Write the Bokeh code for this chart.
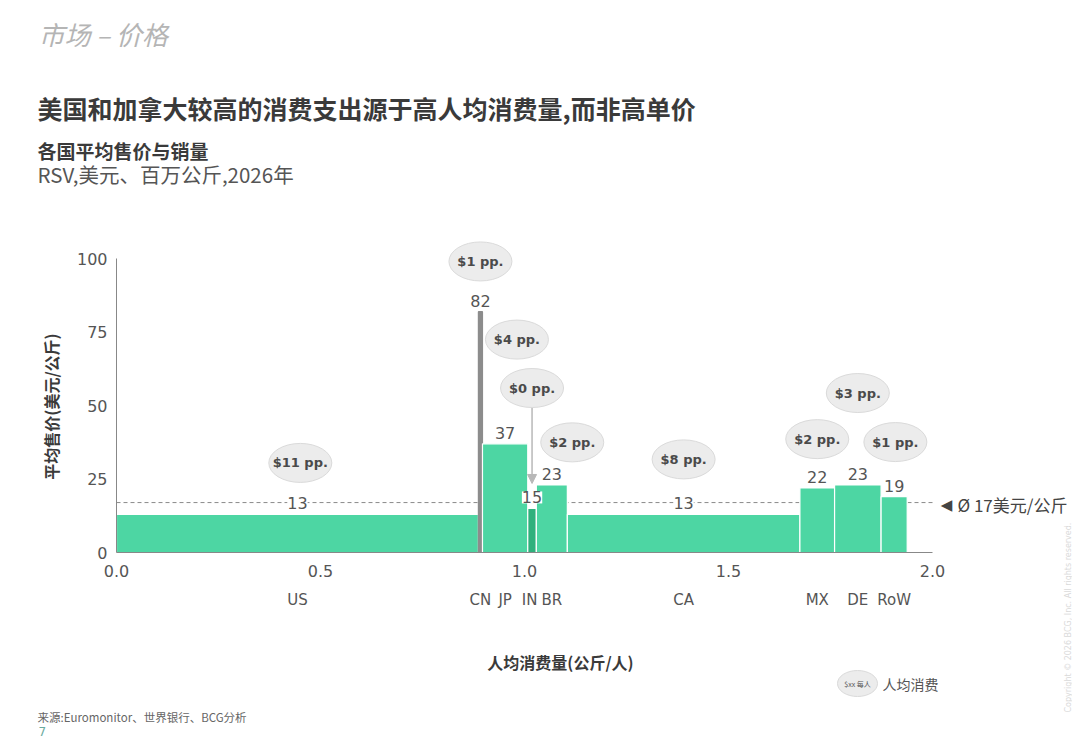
import math
from bokeh.plotting import figure
from bokeh.models import (ColumnDataSource, Range1d, LinearAxis, FixedTicker, Label,
                          LabelSet, Arrow, NormalHead, NumeralTickFormatter)
from bokeh.core.properties import value
from bokeh.embed import file_html
from bokeh.resources import INLINE

# ---------------- data ----------------
countries = ["US", "CN", "JP", "IN", "BR", "CA", "MX", "DE", "RoW"]
per_capita_kg = [0.887, 0.010, 0.111, 0.021, 0.076, 0.570, 0.085, 0.114, 0.064]
avg_price = [13, 82, 37, 15, 23, 13, 22, 23, 19]
spend_pp = [11, 1, 4, 0, 2, 8, 2, 3, 1]
overall_avg_price = 17
x_ticks = [0.0, 0.5, 1.0, 1.5, 2.0]
y_ticks = [0, 25, 50, 75, 100]

# ---------------- layout of annotations ----------------
bubble_dx = [0.007, 0.0, 0.029, 0.0, 0.05, 0.0, 0.0, 0.0, 0.003]
bubble_y = [30.5, 99.1, 72.5, 56.0, 37.5, 31.7, 38.6, 54.3, 37.6]
country_label_text = {"IN": "IN\u00a0"}

# ---------------- styles / geometry ----------------
GREEN = "#4dd6a3"
special_fill = {"CN": "#8c8c8c", "IN": "#2fb07c"}
special_line = {"CN": "#8c8c8c"}
CJK = "Noto Sans CJK SC"
NUM = "DejaVu Sans"
W, H = 1072, 739
X0_PX, Y0_PX = 116, 552          # page pixel of data origin
PX_X, PX_Y = 408.0, 2.937        # pixels per data unit

lefts, rights = [], []
acc = 0.0
for w in per_capita_kg:
    lefts.append(acc)
    acc += w
    rights.append(acc)
centers = [(l + r) / 2 for l, r in zip(lefts, rights)]

bar_src = ColumnDataSource(dict(
    left=lefts, right=rights, top=avg_price,
    cx=centers, txt=[str(v) for v in avg_price],
    fill=[special_fill.get(c, GREEN) for c in countries],
    line=[special_line.get(c, "white") for c in countries],
))
bub_src = ColumnDataSource(dict(
    bx=[c + d for c, d in zip(centers, bubble_dx)],
    by=bubble_y,
    bt=["$%d pp." % v for v in spend_pp],
))

p = figure(width=W, height=H, title=None,
           x_range=Range1d(-X0_PX / PX_X, (W - X0_PX) / PX_X),
           y_range=Range1d(-(H - Y0_PX) / PX_Y, Y0_PX / PX_Y),
           output_backend="svg", toolbar_location=None,
           min_border_left=0, min_border_right=0, min_border_top=0, min_border_bottom=0)
p.xgrid.visible = False
p.ygrid.visible = False
p.outline_line_color = None
p.background_fill_color = "white"
p.border_fill_color = "white"

# x axis (numbers)
xa = p.xaxis[0]
xa.fixed_location = 0
xa.ticker = FixedTicker(ticks=x_ticks)
xa.formatter = NumeralTickFormatter(format="0.0")
xa.bounds = (x_ticks[0], x_ticks[-1])
xa.major_tick_out = 0
xa.major_tick_in = 0
xa.minor_tick_line_color = None
xa.axis_line_color = "#888888"
xa.major_label_text_font = NUM
xa.major_label_text_font_size = "16px"
xa.major_label_text_color = "#555555"
xa.major_label_standoff = 12

# x axis (countries)
ca = LinearAxis(ticker=FixedTicker(ticks=centers), fixed_location=0,
                major_label_overrides={c: country_label_text.get(n, n)
                                       for c, n in zip(centers, countries)})
ca.axis_line_color = None
ca.major_tick_line_color = None
ca.minor_tick_line_color = None
ca.major_label_text_font = NUM
ca.major_label_text_font_size = "15px"
ca.major_label_text_color = "#555555"
ca.major_label_standoff = 32
p.add_layout(ca, "below")

# y axis
ya = p.yaxis[0]
ya.fixed_location = 0
ya.ticker = FixedTicker(ticks=y_ticks)
ya.bounds = (y_ticks[0], y_ticks[-1])
ya.major_tick_out = 0
ya.major_tick_in = 0
ya.minor_tick_line_color = None
ya.axis_line_color = "#888888"
ya.major_label_text_font = NUM
ya.major_label_text_font_size = "16px"
ya.major_label_text_color = "#555555"
ya.major_label_standoff = 9

# average line (over the x-axis extent)
p.segment(x0=x_ticks[0], x1=x_ticks[-1], y0=overall_avg_price, y1=overall_avg_price,
          line_color="#8a8a8a", line_dash="4 3", line_width=1)

# bars
p.quad(left="left", right="right", bottom=0, top="top", source=bar_src,
       fill_color="fill", line_color="line", line_width=1.2)

# arrow from IN bubble to its value
i_in = countries.index("IN")
p.add_layout(Arrow(end=NormalHead(size=9, fill_color="#b8b8b8", line_color="#b8b8b8"),
                   x_start=centers[i_in], y_start=bubble_y[i_in] - 6.8,
                   x_end=centers[i_in], y_end=avg_price[i_in] + 8.5,
                   line_color="#b8b8b8", line_width=1.5))

# value labels
p.add_layout(LabelSet(x="cx", y="top", text="txt", source=bar_src,
                      text_align="center", text_baseline="bottom", y_offset=5,
                      text_font=value(NUM), text_font_size="16px", text_color="#555555",
                      background_fill_color="white"))

# bubbles
p.ellipse(x="bx", y="by", width=63, height=39, width_units="screen", height_units="screen",
          source=bub_src, fill_color="#ececec", line_color="#dadada", line_width=1)
p.text(x="bx", y="by", text="bt", source=bub_src, text_align="center",
       text_baseline="middle", text_font=value(NUM), text_font_style="bold",
       text_font_size="13px", text_color="#4a4a4a")


def dx(xp):
    return (xp - X0_PX) / PX_X


def dy(yp):
    return (Y0_PX - yp) / PX_Y


def lab(text, xp, yp, size, font=CJK, style="normal", color="#444444", align="left",
        angle=0.0):
    """Place a text at page pixel position (xp, yp)."""
    p.add_layout(Label(x=xp, y=H - yp, x_units="screen", y_units="screen",
                       text=text, text_font=font, text_font_size=size, text_font_style=style,
                       text_color=color, text_align=align, text_baseline="middle",
                       angle=angle))


lab("市场 –  价格", 38, 33, "26px", style="italic", color="#b5b5b5")
lab("美国和加拿大较高的消费支出源于高人均消费量,而非高单价", 37, 107, "25px", style="bold", color="#3a3a3a")
lab("各国平均售价与销量", 37, 150, "19px", style="bold", color="#3a3a3a")
lab("RSV,美元、百万公斤,2026年", 37, 173, "20.5px", color="#555555")
lab("平均售价(美元/公斤)", 50, 406, "16px", style="bold", color="#3a3a3a", align="center",
    angle=math.pi / 2)
lab("人均消费量(公斤/人)", 560, 661, "16px", style="bold", color="#3a3a3a", align="center")
lab("◀", 946, 504, "15px", font=NUM, color="#444444", align="center")
lab("Ø 17美元/公斤", 957, 504, "17px", color="#444444")

# legend bubble
p.ellipse(x=[dx(857)], y=[dy(683)], width=40, height=26, width_units="screen",
          height_units="screen", fill_color="#ececec", line_color="#dadada")
lab("$xx 每人", 857, 683, "7px", color="#555555", align="center")
lab("人均消费", 882, 683, "14px", color="#555555")

lab("来源:Euromonitor、世界银行、BCG分析", 37, 716, "11.5px", color="#666666")
lab("7", 38, 731, "12px", font=NUM, color="#6aaba0")
lab("Copyright © 2026 BCG, Inc. All rights reserved.", 1068, 712, "8px", font=NUM,
    color="#dadada", angle=math.pi / 2)

open("out.html", "w").write(file_html(p, INLINE))
